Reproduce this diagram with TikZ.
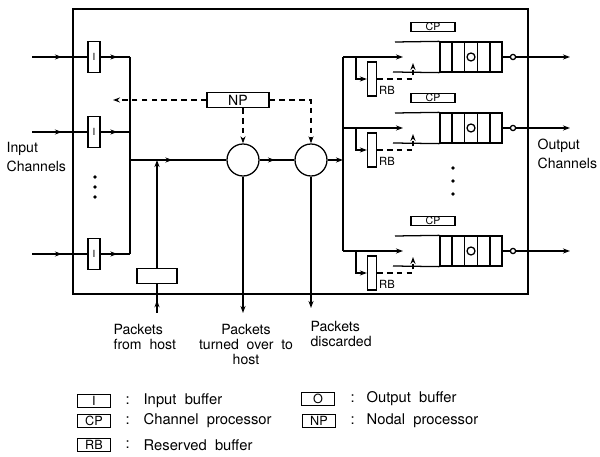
\documentclass[tikz,border=0pt]{standalone}
\usepackage{fontspec}
\setmainfont{TeX Gyre Heros}[WordSpace=2]
\usepackage{tikz}
\usetikzlibrary{arrows.meta, positioning, decorations.markings, calc}

\begin{document}
\begin{tikzpicture}[
  x=0.025cm, y=-0.025cm,
  >={Stealth[length=5pt,width=3.6pt]},
  line width=0.9pt,
  ibuf/.style={draw, minimum width=0.3cm, minimum height=0.78cm, inner sep=0pt, font=\fontsize{7}{7}\selectfont},
  hbuf/.style={draw, minimum width=1cm, minimum height=0.375cm, inner sep=0pt},
  npbox/.style={draw, minimum width=1.55cm, minimum height=0.375cm, inner sep=0pt, font=\fontsize{10}{10}\selectfont},
  proc/.style={draw, circle, minimum size=0.8cm, inner sep=0pt},
  cpbox/.style={draw, minimum width=1.1cm, minimum height=0.225cm, inner sep=0pt, font=\fontsize{7.5}{7.5}\selectfont},
  qbox/.style={draw, minimum width=1.55cm, minimum height=0.75cm, inner sep=0pt},
  obuf/.style={draw, circle, minimum size=0.2cm, inner sep=0pt},
  ocirc/.style={draw, circle, minimum size=0.13cm, inner sep=0pt, fill=white},
  rbbox/.style={draw, minimum width=0.225cm, minimum height=0.85cm, inner sep=0pt},
  rblab/.style={font=\fontsize{8}{8}\selectfont, inner sep=1pt},
  lgbox/.style={draw, minimum width=0.83cm, minimum height=0.33cm, inner sep=0pt, font=\fontsize{9}{9}\selectfont},
  lgtext/.style={anchor=west, inner sep=0pt, font=\fontsize{10.5}{12}\selectfont},
  chlab/.style={align=left, inner sep=0pt, font=\fontsize{10}{13}\selectfont},
  botlab/.style={inner sep=0pt, font=\fontsize{10}{10.7}\selectfont},
  npline/.style={dashed, dash pattern=on 4pt off 3pt},
  midarrow/.style={postaction={decorate}, decoration={markings, mark=at position #1 with {\arrow{>}}}},
  midarrow/.default=0.5
]
\useasboundingbox (0,0) rectangle (600,457);

% Node frame
\draw (73,9) rectangle (528,294);

% Input side
\node[ibuf] (ib1) at (94,57) {I};
\node[ibuf] (ib2) at (94,132) {I};
\node[ibuf] (ib3) at (94,254) {I};
\coordinate (in1) at (32,57);
\coordinate (in2) at (32,132);
\coordinate (in3) at (32,254);
\coordinate (bus1) at (130,57);
\coordinate (bus2) at (130,132);
\coordinate (bus3) at (130,254);
\draw[midarrow=0.54] (in1) -- (ib1);
\draw[midarrow=0.54] (in2) -- (ib2);
\draw[midarrow=0.54] (in3) -- (ib3);
\draw[midarrow=0.57] (ib1) -- (bus1);
\draw[midarrow=0.57] (ib2) -- (bus2);
\draw[midarrow=0.57] (ib3) -- (bus3);
\draw (bus1) -- (bus3);
\foreach \d in {177,187,197} \fill (95,\d) circle (1.4pt);
\node[chlab, anchor=west] (inlab) at (6,157) {Input\\Channels};

% Host buffer and processing
\node[hbuf] (hb) at (157,276) {};
\coordinate (host) at (157,313);
\coordinate (jin) at (130,160);
\coordinate (jhost) at (157,160);
\node[proc] (c1) at (243,160) {};
\node[proc] (c2) at (311,160) {};
\coordinate (rbus) at (343,160);
\coordinate (toh) at (243,313);
\coordinate (disc) at (311,308);
\draw[midarrow=0.44] (host) -- (hb);
\draw[->] (hb) -- (jhost);
\draw[midarrow=0.44] (jin) -- (c1);
\draw[midarrow=0.44] (c1) -- (c2);
\draw[->] (c2) -- (rbus);
\draw[->] (c1) -- (toh);
\draw[->] (c2) -- (disc);

% Nodal processor
\node[npbox] (np) at (238,100) {NP};
\coordinate (npin) at (113,100);
\draw[npline, ->] (np) -- (npin);
\draw[npline, ->] (np.south -| c1) -- (c1);
\draw[npline, ->] (np) -| (c2);

% Output side
\coordinate (rtop) at (343,57);
\coordinate (rbot) at (343,251);
\draw (rtop) -- (rbot);
\foreach \i/\y in {1/57, 2/128, 3/251} {
  \node[cpbox] (cp\i) at (433,\y-30) {CP};
  \node[qbox] (q\i) at (471,\y) {};
  \foreach \c in {1,...,4}
    \draw ($(q\i.north west)!\c/5!(q\i.north east)$) -- ($(q\i.south west)!\c/5!(q\i.south east)$);
  \node[obuf] (ob\i) at (471,\y) {};
  \node[ocirc] (oc\i) at (513,\y) {};
  \coordinate (och\i) at (570,\y);
  \draw (q\i) -- (oc\i);
  \draw[->] (oc\i) -- (och\i);
  \coordinate (qt\i) at (395,\y-15);
  \coordinate (qb\i) at (393,\y+15);
  \draw (qt\i) -- (q\i.north west);
  \draw (qb\i) -- (q\i.south west);
  % branch and reserved buffer
  \coordinate (br\i) at (343,\y);
  \coordinate (bt\i) at (403,\y);
  \draw[->] (br\i) -- (bt\i);
  \node[rbbox] (rb\i) at (372,\y+22) {};
  \node[rblab, anchor=south west] (rbl\i) at (rb\i.south east) {RB};
  \coordinate (rs\i) at (356,\y);
  \coordinate (ru\i) at (413,\y+6);
  \draw[->] (rs\i) |- (rb\i);
  \draw[npline, ->] (rb\i) -| (ru\i);
}
\foreach \d in {168,181,194} \fill (453,\d) circle (1.4pt);
\node[chlab, anchor=west] (outlab) at (537,154) {Output\\Channels};

% Bottom labels
\node[botlab, anchor=north west, align=left] (lhost) at (113,324) {Packets\\from host};
\node[botlab, anchor=north, align=center] (ltoh) at (246,324) {Packets\\turned over to\\host};
\node[botlab, anchor=north west, align=left] (ldisc) at (310,321) {Packets\\discarded};

% Legend
\node[lgbox] (lgI) at (94,401) {I};
\node[lgbox] (lgCP) at (94,421) {CP};
\node[lgbox] (lgRB) at (94,445) {RB};
\node[lgbox] (lgO) at (318,399) {O};
\node[lgbox] (lgNP) at (319,421) {NP};
\node[lgtext] (sI) at (125,401) {:};
\node[lgtext] (sCP) at (125,421) {:};
\node[lgtext] (sRB) at (125,445) {:};
\node[lgtext] (sO) at (350,399) {:};
\node[lgtext] (sNP) at (350,421) {:};
\node[lgtext] (tI) at (143,401) {Input buffer};
\node[lgtext] (tCP) at (143,421) {Channel processor};
\node[lgtext] (tRB) at (143,445) {Reserved buffer};
\node[lgtext] (tO) at (366,399) {Output buffer};
\node[lgtext] (tNP) at (366,421) {Nodal processor};
\end{tikzpicture}
\end{document}
